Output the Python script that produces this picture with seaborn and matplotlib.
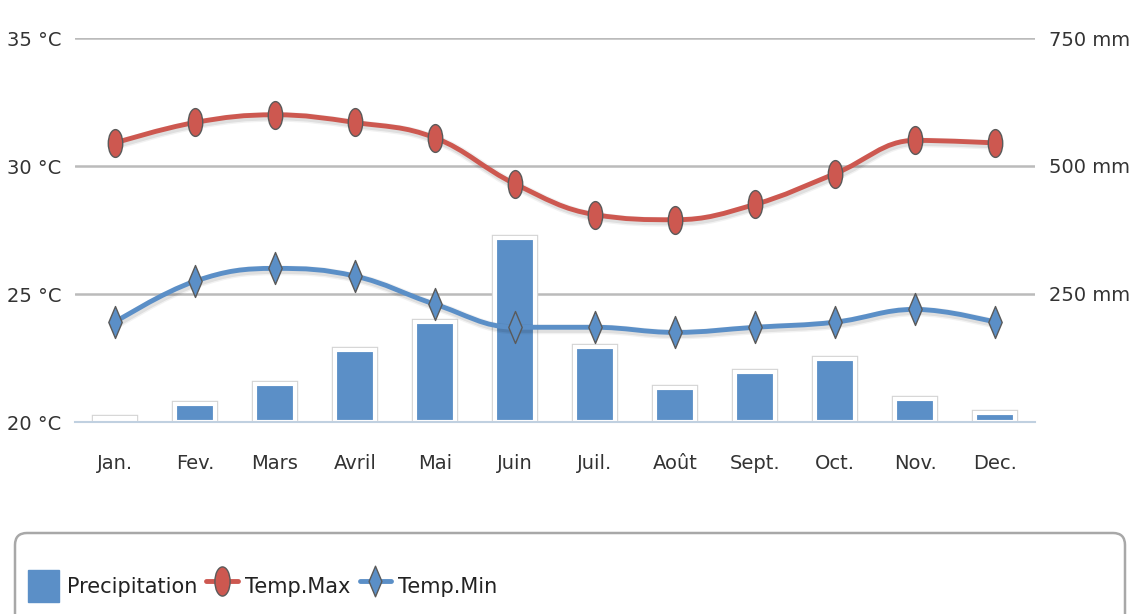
import numpy as np
import pandas as pd
import matplotlib
matplotlib.use("Agg")
import matplotlib.pyplot as plt
import seaborn as sns
from matplotlib.path import Path
from matplotlib.patches import PathPatch, FancyBboxPatch, Patch
from matplotlib.lines import Line2D
from matplotlib.markers import MarkerStyle
from matplotlib.transforms import Affine2D, ScaledTranslation
from matplotlib import font_manager

# ---------------- data ----------------
months = ["Jan.", "Fev.", "Mars", "Avril", "Mai", "Juin",
          "Juil.", "Août", "Sept.", "Oct.", "Nov.", "Dec."]
precip_mm = [8, 35, 74, 141, 195, 359, 147, 67, 98, 123, 45, 18]
temp_max = [30.9, 31.7, 32.0, 31.7, 31.1, 29.3, 28.1, 27.9, 28.5, 29.7, 31.0, 30.9]
temp_min = [23.9, 25.5, 26.0, 25.7, 24.6, 23.7, 23.7, 23.5, 23.7, 23.9, 24.4, 23.9]
temp_ticks = [20, 25, 30, 35]
temp_tick_labels = ["20 °C", "25 °C", "30 °C", "35 °C"]
precip_ticks = [250, 500, 750]
precip_tick_labels = ["250 mm", "500 mm", "750 mm"]
series_names = ["Precipitation", "Temp.Max", "Temp.Min"]

# ---------------- style ----------------
sns.set_theme(style="white")
names = {f.name for f in font_manager.fontManager.ttflist}
if "Liberation Sans Narrow" in names:
    fam = ["Liberation Sans Narrow", "DejaVu Sans"]
    tick_fs, leg_fs = 18, 20
else:
    fam = ["DejaVu Sans"]
    tick_fs, leg_fs = 14, 15
plt.rcParams["font.family"] = fam

TXT = "#333333"
BAR = "#5b8fc7"
RED = "#cd5850"
BLUE = "#5b8fc7"
AXC = "#c0d0e0"
GRID = "#bbbbbb"

fig = plt.figure(figsize=(11.37, 6.14), dpi=100)
fig.patch.set_facecolor("white")
ax1 = fig.add_axes([75 / 1137, 1 - 422 / 614, 960 / 1137, 384 / 614])
ax2 = ax1.twinx()
ax1.set_zorder(2)
ax2.set_zorder(1)
ax1.patch.set_visible(False)

# ---------------- bars (precipitation, right axis) ----------------
sns.barplot(x=months, y=precip_mm, ax=ax2, color="#d4d4d4", saturation=1,
            width=0.50, linewidth=4.6, edgecolor="#d4d4d4", zorder=2)
sns.barplot(x=months, y=precip_mm, ax=ax2, color=BAR, saturation=1,
            width=0.50, linewidth=3.0, edgecolor="white", zorder=3)
ax2.set_ylim(0, 750)
ax2.set_yticks(precip_ticks)
ax2.set_yticklabels(precip_tick_labels)
ax2.yaxis.grid(True, color=GRID, linewidth=1.8)
ax2.set_axisbelow(True)
ax2.set_xlabel("")
ax2.set_ylabel("")
for s in ax2.spines.values():
    s.set_visible(False)
ax2.tick_params(axis="y", length=0, pad=10, labelsize=tick_fs, labelcolor=TXT)


# ---------------- spline lines (temperatures, left axis) ----------------
def spline_path(xs, ys, smoothing=1.5):
    n = len(xs)
    d = smoothing + 1
    left = [None] * n
    right = [None] * n
    for i in range(1, n - 1):
        px, py = xs[i], ys[i]
        lx, ly = xs[i - 1], ys[i - 1]
        nx, ny = xs[i + 1], ys[i + 1]
        lcx, lcy = (smoothing * px + lx) / d, (smoothing * py + ly) / d
        rcx, rcy = (smoothing * px + nx) / d, (smoothing * py + ny) / d
        corr = ((rcy - lcy) * (rcx - px)) / (rcx - lcx) + py - rcy
        lcy += corr
        rcy += corr
        if lcy > ly and lcy > py:
            lcy = max(ly, py); rcy = 2 * py - lcy
        elif lcy < ly and lcy < py:
            lcy = min(ly, py); rcy = 2 * py - lcy
        if rcy > ny and rcy > py:
            rcy = max(ny, py); lcy = 2 * py - rcy
        elif rcy < ny and rcy < py:
            rcy = min(ny, py); lcy = 2 * py - rcy
        left[i] = (lcx, lcy)
        right[i] = (rcx, rcy)
    verts = [(xs[0], ys[0])]
    codes = [Path.MOVETO]
    for i in range(1, n):
        c1 = right[i - 1] if right[i - 1] is not None else (xs[i - 1], ys[i - 1])
        c2 = left[i] if left[i] is not None else (xs[i], ys[i])
        verts += [c1, c2, (xs[i], ys[i])]
        codes += [Path.CURVE4] * 3
    return Path(verts, codes)


xpos = list(range(len(months)))
shadow_tr = ax1.transData + ScaledTranslation(1 / 72, -1.5 / 72, fig.dpi_scale_trans)
for vals, col in [(temp_max, RED), (temp_min, BLUE)]:
    p = spline_path(xpos, vals)
    for lw, a in [(7, 0.05), (5, 0.08)]:
        ax1.add_patch(PathPatch(p, fill=False, edgecolor="black", alpha=a, lw=lw,
                                transform=shadow_tr, zorder=3, capstyle="round"))
    ax1.add_patch(PathPatch(p, fill=False, edgecolor=col, lw=3.5, zorder=4,
                            capstyle="round", joinstyle="round"))

ellipse = MarkerStyle("o", transform=Affine2D().scale(0.52, 1.0))
diamond = MarkerStyle(Path([(0, 1), (0.42, 0), (0, -1), (-0.42, 0), (0, 1)],
                           [Path.MOVETO, Path.LINETO, Path.LINETO, Path.LINETO, Path.CLOSEPOLY]))

df = pd.DataFrame({"x": xpos, "tmax": temp_max, "tmin": temp_min})
sns.scatterplot(data=df, x="x", y="tmax", ax=ax1, marker=ellipse, s=20 ** 2,
                color=RED, edgecolor="#5a5a5a", linewidth=1.0, zorder=5)
sns.scatterplot(data=df, x="x", y="tmin", ax=ax1, marker=diamond, s=23 ** 2,
                color=BLUE, edgecolor="#5a5a5a", linewidth=1.0, zorder=5)

ax1.set_ylim(20, 35)
ax1.set_xlim(-0.5, len(months) - 0.5)
ax1.set_yticks(temp_ticks)
ax1.set_yticklabels(temp_tick_labels)
ax1.set_xticks(xpos)
ax1.set_xticklabels(months)
ax1.set_xticks([i + 0.5 for i in range(len(months))], minor=True)
ax1.grid(False)
ax1.set_xlabel("")
ax1.set_ylabel("")
for k, s in ax1.spines.items():
    s.set_visible(k == "bottom")
ax1.spines["bottom"].set_color(AXC)
ax1.spines["bottom"].set_linewidth(1.5)
ax1.tick_params(axis="y", length=0, pad=10, labelsize=tick_fs, labelcolor=TXT)
ax1.tick_params(axis="x", which="major", length=0, pad=23, labelsize=tick_fs, labelcolor=TXT)
ax1.tick_params(axis="x", which="minor", length=13, width=1.3, color=AXC, direction="out")

# ---------------- legend ----------------
box = FancyBboxPatch((0.15, -1.0), 11.1, (614 - 533) / 100 + 1.0,
                     boxstyle="round,pad=0,rounding_size=0.12",
                     transform=fig.dpi_scale_trans, facecolor="white",
                     edgecolor="#a8a8a8", linewidth=1.8, zorder=0)
fig.add_artist(box)

handles = [
    Patch(facecolor=BAR, edgecolor=BAR),
    Line2D([0], [0], color=RED, lw=3.5, marker=ellipse, markersize=21,
           markerfacecolor=RED, markeredgecolor="#5a5a5a", markeredgewidth=1.0),
    Line2D([0], [0], color=BLUE, lw=3.5, marker=diamond, markersize=22,
           markerfacecolor=BLUE, markeredgecolor="#5a5a5a", markeredgewidth=1.0),
]
leg = fig.legend(handles, series_names, loc="center left",
                 bbox_to_anchor=(28 / 1137, 1 - 586 / 614), ncol=3, frameon=False,
                 fontsize=leg_fs, handlelength=1.5, handleheight=2.0,
                 handletextpad=0.35, columnspacing=0.45, borderpad=0, borderaxespad=0)
for t in leg.get_texts():
    t.set_color("#222222")

fig.savefig("out.png", dpi=100, facecolor="white")
